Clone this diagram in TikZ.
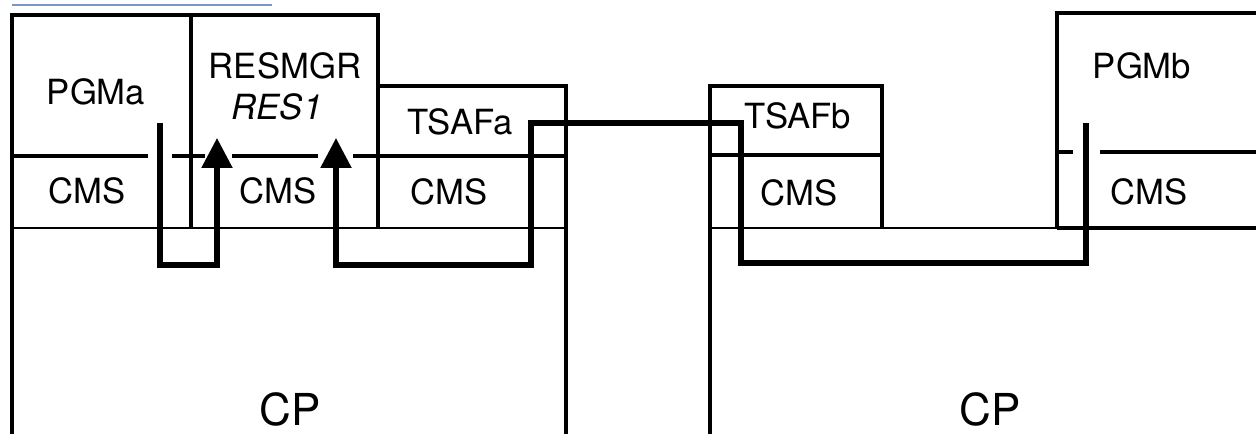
\documentclass[tikz,border=0pt]{standalone}
\usepackage{fontspec}
\setmainfont{TeX Gyre Heros}
\usetikzlibrary{arrows.meta}
\definecolor{linkblue}{RGB}{120,150,200}
\begin{document}
\begin{tikzpicture}[x=0.75pt,y=-0.75pt,
  thickln/.style={line width=3.5pt},
  midln/.style={line width=3pt},
  thinln/.style={line width=2pt},
  conn/.style={line width=4pt},
  arr/.style={conn,-{Triangle[length=22.5pt,width=22.5pt]}},
  lbl/.style={font=\fontsize{26}{30}\selectfont,inner sep=0pt},
  big/.style={font=\fontsize{33}{38}\selectfont,inner sep=0pt}]
\useasboundingbox (0,0) rectangle (1256,434);
% link underline at top
\draw[linkblue,line width=1pt] (12,5) -- (272,5);
% ---- left CP ----
\coordinate (LTL) at (12,15);
\coordinate (LTR) at (378,15);
\draw[thickln] (12,434) -- (LTL) -- (LTR) -- (378,228);
\draw[thickln] (191,15) -- (191,228);
\draw[thickln] (378,86) -- (566,86) -- (566,434);
\draw[midln] (12,156) -- (148,156);
\draw[midln] (172,156) -- (205,156);
\draw[midln] (232,156) -- (318,156);
\draw[midln] (353,156) -- (566,156);
\draw[thinln] (12,228) -- (566,228);
% ---- right CP ----
\draw[thickln] (710,434) -- (710,86) -- (882,86) -- (882,228);
\draw[midln] (710,155) -- (882,155);
\draw[thinln] (710,228) -- (1057,228);
\draw[thickln] (1057,228) -- (1256,228);
\draw[thickln] (1256,13) -- (1057,13) -- (1057,228);
\draw[midln] (1057,152) -- (1073,152);
\draw[midln] (1100,152) -- (1256,152);
% ---- connectors ----
\coordinate (pa) at (160,123);
\coordinate (pb) at (1086,123);
\draw[arr] (pa) -- (160,265) -- (217,265) -- (217,138);
\draw[arr] (pb) -- (1086,263) -- (741,263) -- (741,123) -- (531,123) -- (531,265) -- (336,265) -- (336,138);
% ---- labels ----
\node[lbl] (pgma) at (96,92) {PGMa};
\node[lbl] (resmgr) at (285,66) {RESMGR};
\node[lbl] (res1) at (277,107) {\itshape RES1};
\node[lbl] (cms1) at (87,191) {CMS};
\node[lbl] (cms2) at (278,191) {CMS};
\node[lbl] (tsafa) at (460,122) {TSAFa};
\node[lbl] (cms3) at (449,192) {CMS};
\node[lbl] (tsafb) at (798,116) {TSAFb};
\node[lbl] (cms4) at (799,193) {CMS};
\node[lbl] (pgmb) at (1142,66) {PGMb};
\node[lbl] (cms5) at (1149,192) {CMS};
\node[big] (cpa) at (290,409) {CP};
\node[big] (cpb) at (990,409) {CP};
\end{tikzpicture}
\end{document}
